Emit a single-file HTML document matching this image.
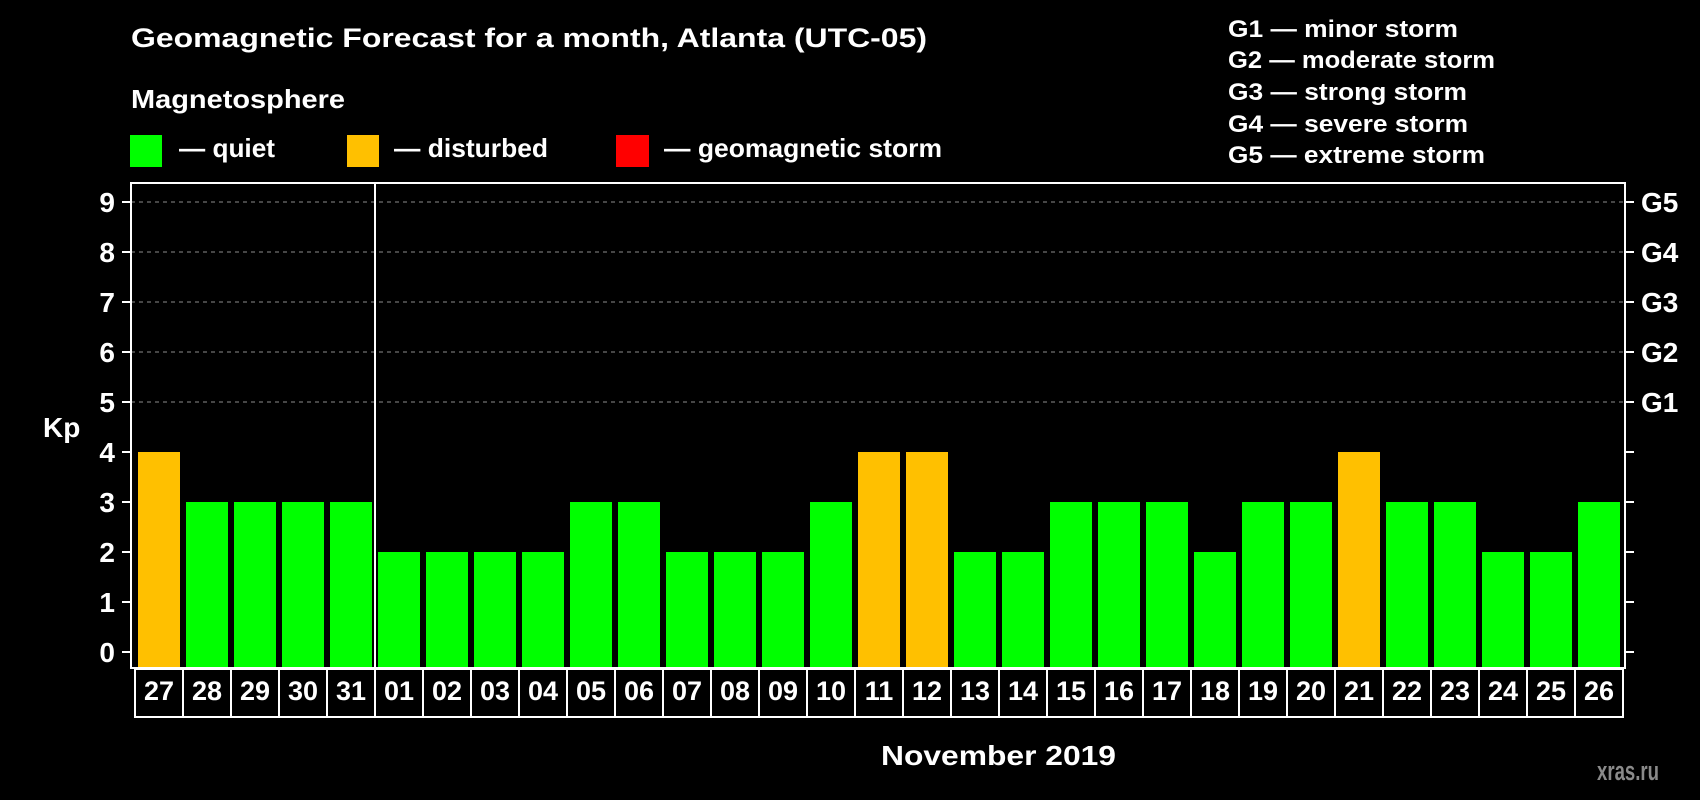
<!DOCTYPE html>
<html><head><meta charset="utf-8"><style>
html,body{margin:0;padding:0;background:#000;}
svg{display:block;font-family:"Liberation Sans",Arial,sans-serif;font-weight:bold;}
</style></head><body>
<svg id="chart" width="1700" height="800" viewBox="0 0 1700 800">
<rect x="0" y="0" width="1700" height="800" fill="#000"/>
<text x="131" y="47" font-size="27" fill="#fff" textLength="796" lengthAdjust="spacingAndGlyphs">Geomagnetic Forecast for a month, Atlanta (UTC-05)</text>
<text x="131" y="108" font-size="26" fill="#fff" textLength="214" lengthAdjust="spacingAndGlyphs">Magnetosphere</text>
<g>
<rect x="130" y="135" width="32" height="32" fill="#00ff00"/>
<text x="179" y="157" font-size="26" fill="#fff" textLength="96" lengthAdjust="spacingAndGlyphs">— quiet</text></g>
<g>
<rect x="347" y="135" width="32" height="32" fill="#ffc000"/>
<text x="394" y="157" font-size="26" fill="#fff" textLength="154" lengthAdjust="spacingAndGlyphs">— disturbed</text></g>
<g>
<rect x="616" y="135" width="33" height="32" fill="#ff0000"/>
<text x="664" y="157" font-size="26" fill="#fff" textLength="278" lengthAdjust="spacingAndGlyphs">— geomagnetic storm</text></g>
<g font-size="24" fill="#fff">
<text x="1228" y="37" textLength="230" lengthAdjust="spacingAndGlyphs">G1 — minor storm</text>
<text x="1228" y="68" textLength="267" lengthAdjust="spacingAndGlyphs">G2 — moderate storm</text>
<text x="1228" y="100" textLength="239" lengthAdjust="spacingAndGlyphs">G3 — strong storm</text>
<text x="1228" y="132" textLength="240" lengthAdjust="spacingAndGlyphs">G4 — severe storm</text>
<text x="1228" y="163" textLength="257" lengthAdjust="spacingAndGlyphs">G5 — extreme storm</text>
</g>
<g id="grid"></g><g id="bars"></g><g id="axes"></g>
<text x="43" y="437" font-size="28" fill="#fff">Kp</text>
<text x="881" y="765" font-size="28" fill="#fff" textLength="235" lengthAdjust="spacingAndGlyphs">November 2019</text>
<text x="1597" y="780" font-size="27" fill="#8a8a8a" textLength="62" lengthAdjust="spacingAndGlyphs">xras.ru</text>
</svg>
<script>
const days = ["27","28","29","30","31","01","02","03","04","05","06","07","08","09","10","11","12","13","14","15","16","17","18","19","20","21","22","23","24","25","26"];
const kp = [4,3,3,3,3,2,2,2,2,3,3,2,2,2,3,4,4,2,2,3,3,3,2,3,3,4,3,3,2,2,3];
const yTicks = [0,1,2,3,4,5,6,7,8,9];
const gLabels = ["G1","G2","G3","G4","G5"];
const gLevels = [5,6,7,8,9];

const NS="http://www.w3.org/2000/svg";
const L=131,R=1625,T=183,B=668;
const y=v=>652-v*50;
const slot=48, x0=135;
const xs=i=>x0+i*slot;
function mk(tag,attrs,parent){const e=document.createElementNS(NS,tag);for(const k in attrs)e.setAttribute(k,attrs[k]);parent.appendChild(e);return e;}
const grid=document.getElementById('grid'),bars=document.getElementById('bars'),axes=document.getElementById('axes');
yTicks.forEach(v=>{
  if(v>=5){const g=mk('line',{x1:L,x2:R,y1:y(v),y2:y(v),stroke:'#8c8c8c','stroke-width':1,'stroke-dasharray':'4,4'},grid);
  
  }
  const t=mk('line',{x1:122,x2:L,y1:y(v),y2:y(v),stroke:'#fff','stroke-width':2},axes);
  
  
  const t2=mk('line',{x1:R,x2:1634,y1:y(v),y2:y(v),stroke:'#fff','stroke-width':2},axes);
  
  
  const lb=mk('text',{x:115,y:y(v)+10,'font-size':28,fill:'#fff','text-anchor':'end'},axes);
  lb.textContent=v;
  
  
});
gLabels.forEach((g,i)=>{
  const t=mk('text',{x:1641,y:y(gLevels[i])+10,'font-size':28,fill:'#fff'},axes);
  t.textContent=g;
  
  
});
kp.forEach((v,i)=>{
  const col=v>=5?'#ff0000':(v>=4?'#ffc000':'#00ff00');
  const b=mk('rect',{x:xs(i)+3,y:y(v),width:42,height:B-y(v),fill:col},bars);
  
  
  const c=mk('rect',{x:xs(i),y:B+1,width:slot,height:48,fill:'none',stroke:'#fff','stroke-width':2},axes);
  
  
  const t=mk('text',{x:xs(i)+slot/2,y:700,'font-size':27,fill:'#fff','text-anchor':'middle'},axes);
  t.textContent=days[i];
  
  
});
const f=mk('rect',{x:L,y:T,width:R-L,height:B-T,fill:'none',stroke:'#fff','stroke-width':2},axes);


const d=mk('line',{x1:xs(5),x2:xs(5),y1:T,y2:B,stroke:'#fff','stroke-width':2},axes);


</script>
</body></html>
